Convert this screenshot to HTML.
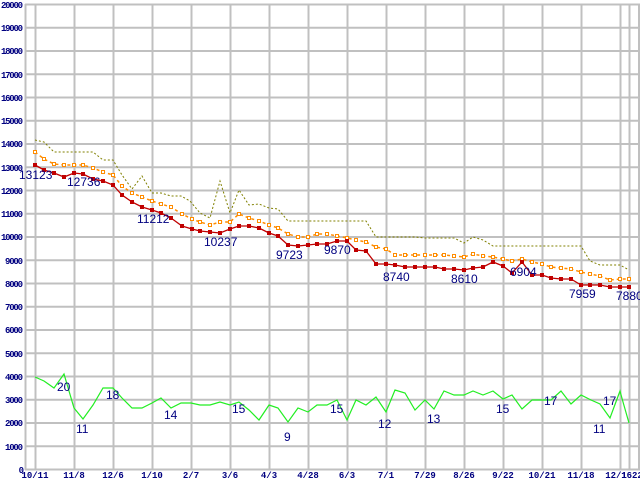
<!DOCTYPE html>
<html><head><meta charset="utf-8"><style>
html,body{margin:0;padding:0;background:#fff;width:640px;height:480px;overflow:hidden}
svg{display:block}
.ya{font:bold 9px "Liberation Mono",monospace;fill:#000080;text-anchor:end}
.xa{font:bold 9px "Liberation Mono",monospace;fill:#000080;text-anchor:middle}
.lb{font:12px "Liberation Sans",sans-serif;fill:#000080}
</style></head><body>
<svg width="640" height="480" xmlns="http://www.w3.org/2000/svg">
<defs>
<marker id="mr" markerUnits="userSpaceOnUse" markerWidth="6" markerHeight="6" refX="3" refY="3"><rect x="1" y="1" width="4" height="4" fill="#c00000"/></marker>
<marker id="mo" markerUnits="userSpaceOnUse" markerWidth="6" markerHeight="6" refX="3" refY="3"><rect x="1.5" y="1.5" width="3" height="3" fill="#fff" stroke="#ff8c00" stroke-width="1"/></marker>
</defs>
<g stroke="#c0c0c0" stroke-width="2" fill="none">
<line x1="25" y1="4.5" x2="640" y2="4.5"/><line x1="25" y1="27.8" x2="640" y2="27.8"/><line x1="25" y1="51" x2="640" y2="51"/><line x1="25" y1="74.3" x2="640" y2="74.3"/><line x1="25" y1="97.5" x2="640" y2="97.5"/><line x1="25" y1="120.8" x2="640" y2="120.8"/><line x1="25" y1="144" x2="640" y2="144"/><line x1="25" y1="167.3" x2="640" y2="167.3"/><line x1="25" y1="190.5" x2="640" y2="190.5"/><line x1="25" y1="213.8" x2="640" y2="213.8"/><line x1="25" y1="237" x2="640" y2="237"/><line x1="25" y1="260.3" x2="640" y2="260.3"/><line x1="25" y1="283.5" x2="640" y2="283.5"/><line x1="25" y1="306.8" x2="640" y2="306.8"/><line x1="25" y1="330" x2="640" y2="330"/><line x1="25" y1="353.3" x2="640" y2="353.3"/><line x1="25" y1="376.5" x2="640" y2="376.5"/><line x1="25" y1="399.8" x2="640" y2="399.8"/><line x1="25" y1="423" x2="640" y2="423"/><line x1="25" y1="446.3" x2="640" y2="446.3"/><line x1="25" y1="469.5" x2="640" y2="469.5"/>
<line x1="25.5" y1="4" x2="25.5" y2="470"/><line x1="35.5" y1="4" x2="35.5" y2="470"/><line x1="74.5" y1="4" x2="74.5" y2="470"/><line x1="113.5" y1="4" x2="113.5" y2="470"/><line x1="152.5" y1="4" x2="152.5" y2="470"/><line x1="191.5" y1="4" x2="191.5" y2="470"/><line x1="230.5" y1="4" x2="230.5" y2="470"/><line x1="269.5" y1="4" x2="269.5" y2="470"/><line x1="308.5" y1="4" x2="308.5" y2="470"/><line x1="347.5" y1="4" x2="347.5" y2="470"/><line x1="386.5" y1="4" x2="386.5" y2="470"/><line x1="425.5" y1="4" x2="425.5" y2="470"/><line x1="464.5" y1="4" x2="464.5" y2="470"/><line x1="503.5" y1="4" x2="503.5" y2="470"/><line x1="542.5" y1="4" x2="542.5" y2="470"/><line x1="581.5" y1="4" x2="581.5" y2="470"/><line x1="620.5" y1="4" x2="620.5" y2="470"/><line x1="629.5" y1="4" x2="629.5" y2="470"/><line x1="639" y1="4" x2="639" y2="470"/>
</g>
<g class="ya">
<text x="23" y="8" textLength="22">20000</text><text x="23" y="31" textLength="22">19000</text><text x="23" y="54" textLength="22">18000</text><text x="23" y="78" textLength="22">17000</text><text x="23" y="101" textLength="22">16000</text><text x="23" y="124" textLength="22">15000</text><text x="23" y="147" textLength="22">14000</text><text x="23" y="171" textLength="22">13000</text><text x="23" y="194" textLength="22">12000</text><text x="23" y="217" textLength="22">11000</text><text x="23" y="240" textLength="22">10000</text><text x="23" y="264" textLength="18">9000</text><text x="23" y="287" textLength="18">8000</text><text x="23" y="310" textLength="18">7000</text><text x="23" y="333" textLength="18">6000</text><text x="23" y="357" textLength="18">5000</text><text x="23" y="380" textLength="18">4000</text><text x="23" y="403" textLength="18">3000</text><text x="23" y="426" textLength="18">2000</text><text x="23" y="450" textLength="18">1000</text><text x="24" y="473">0</text>
</g>
<g class="xa">
<text x="35" y="478">10/11</text><text x="74" y="478">11/8</text><text x="113" y="478">12/6</text><text x="152" y="478">1/10</text><text x="191" y="478">2/7</text><text x="230" y="478">3/6</text><text x="269" y="478">4/3</text><text x="308" y="478">4/28</text><text x="347" y="478">6/3</text><text x="386" y="478">7/1</text><text x="425" y="478">7/29</text><text x="464" y="478">8/26</text><text x="503" y="478">9/22</text><text x="542" y="478">10/21</text><text x="581" y="478">11/18</text><text x="616" y="478">12/1</text><text x="632" y="478">1622</text>
</g>
<polyline fill="none" stroke="#808000" stroke-width="1" stroke-dasharray="2,2" points="35,140 44,142 54,152 64,152 74,152 83,152 93,152 103,160 113,160 122,175 132,189 142,176 152,193 161,193 171,196 181,196 190,201 200,213 210,218 220,181 230,213 239,190 249,205 259,204 269,208 278,209 288,221 298,221 308,221 317,221 327,221 337,221 347,221 356,221 366,221 376,237 386,237 395,237 405,237 415,237 425,238 435,238 444,238 454,238 464,243 473,237 483,240 493,246 503,246 512,246 522,246 532,246 542,246 551,246 561,246 571,246 581,246 590,261 600,265 610,265 620,265 629,270"/>
<polyline fill="none" stroke="#ff8c00" stroke-width="1.5" stroke-dasharray="3,3" marker-start="url(#mo)" marker-mid="url(#mo)" marker-end="url(#mo)" points="35,152 44,159 54,164 64,165 74,165 83,165 93,168 103,172 113,175 122,186 132,193 142,197 152,201 161,204 171,207 182,214 192,219 200,222 210,225 220,222 230,222 239,214 249,218 259,221 269,225 278,228 288,234 298,237 308,237 317,234 327,234 337,236 347,238 356,240 366,242 376,247 386,249 395,255 405,255 415,255 425,255 435,255 444,255 454,256 464,257 473,254 483,256 493,257 503,259 512,261 522,259 532,262 542,264 551,267 561,268 571,269 581,272 590,274 600,276 610,280 620,279 629,279"/>
<polyline fill="none" stroke="#c00000" stroke-width="1.3" marker-start="url(#mr)" marker-mid="url(#mr)" marker-end="url(#mr)" points="35,165 44,170 54,173 64,177 74,173 83,174 93,179 103,181 113,185 122,195 132,202 142,207 152,210 161,213 171,218 182,226 192,229 200,231 210,232 220,233 230,229 239,226 249,226 259,228 269,233 278,236 288,245 298,246 308,245 317,244 327,244 337,241 347,241 356,250 366,251 376,264 386,264 395,265 405,267 415,267 425,267 435,267 444,269 454,269 464,270 473,268 483,267 493,262 503,266 512,273 522,262 532,275 542,275 551,278 561,279 571,279 581,285 590,285 600,285 610,287 620,287 629,287"/>
<polyline fill="none" stroke="#22ee22" stroke-width="1.2" points="35,377 44,381 54,388 64,374 74,408 83,419 93,405 103,388 113,388 122,398 132,408 142,408 152,403 161,398 171,408 181,403 191,403 200,405 210,405 220,402 230,405 239,402 249,410 259,420 269,405 278,408 288,422 298,408 308,412 317,405 327,405 337,400 347,420 356,400 366,405 376,397 386,412 395,390 405,393 415,410 425,400 434,409 444,391 454,395 464,395 473,391 483,395 493,391 503,399 512,395 522,409 532,400 542,400 551,400 561,391 571,404 581,395 591,400 600,404 610,418 620,391 623,402 629,423"/>
<g class="lb">
<text x="19" y="179">13123</text><text x="67" y="186">12736</text><text x="137" y="223">11212</text><text x="204" y="246">10237</text><text x="276" y="259">9723</text><text x="324" y="254">9870</text><text x="383" y="281">8740</text><text x="451" y="283">8610</text><text x="510" y="276">6904</text><text x="569" y="298">7959</text><text x="616" y="300">7880</text>
<text x="57" y="391">20</text><text x="76" y="433">11</text><text x="106" y="399">18</text><text x="164" y="419">14</text><text x="232" y="413">15</text><text x="284" y="441">9</text><text x="330" y="413">15</text><text x="378" y="428">12</text><text x="427" y="423">13</text><text x="496" y="413">15</text><text x="544" y="405">17</text><text x="593" y="433">11</text><text x="603" y="405">17</text>
</g>
</svg>
</body></html>
